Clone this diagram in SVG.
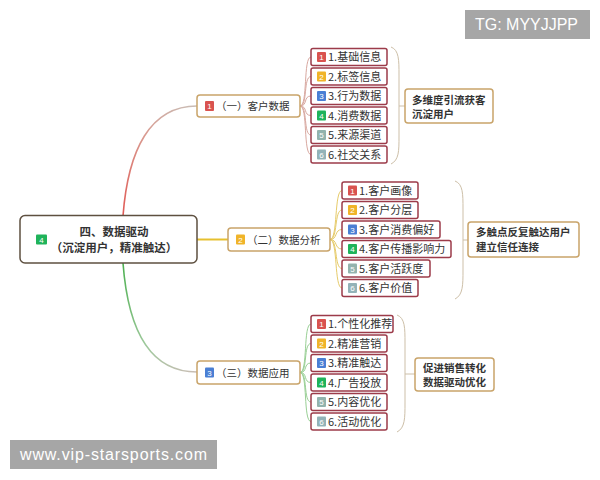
<svg xmlns="http://www.w3.org/2000/svg" width="600" height="480" viewBox="0 0 600 480">
<defs>
<linearGradient id="gRed" gradientUnits="userSpaceOnUse" x1="123" y1="216" x2="197" y2="106">
<stop offset="0" stop-color="#e05a55"/><stop offset="0.6" stop-color="#d99a90"/><stop offset="1" stop-color="#c9bdb5"/>
</linearGradient>
<linearGradient id="gGreen" gradientUnits="userSpaceOnUse" x1="123" y1="263" x2="197" y2="372">
<stop offset="0" stop-color="#4cb050"/><stop offset="0.6" stop-color="#9cc89a"/><stop offset="1" stop-color="#c9bdb5"/>
</linearGradient>
<style>
text{font-family:"Noto Sans CJK SC","Noto Sans",sans-serif;fill:#333}
.leaf{fill:#fff;stroke:#9c3b4a;stroke-width:1.5}
.br{fill:#fff;stroke:#c9a46a;stroke-width:1.5}
.sum{fill:#fff;stroke:#c9a46a;stroke-width:1.5}
.root{fill:#fff;stroke:#5e5040;stroke-width:1.5}
.lt{font-size:11px}
.bt{font-size:10.5px}
.st{font-size:10.5px;font-weight:bold}
.rt{font-size:11.5px;font-weight:bold}
.bn{font-size:8px;fill:#fff;text-anchor:middle;font-family:"Liberation Sans",sans-serif}
.c1{fill:#d9534f}.c2{fill:#f0b429}.c3{fill:#4a7fd4}.c4{fill:#1fb35a}.c5{fill:#93b3ad}.c6{fill:#93b3b8}
.f1{fill:none;stroke:#d8a8a0;stroke-width:1}
.f2{fill:none;stroke:#e6cb6a;stroke-width:1}
.f3{fill:none;stroke:#98cf94;stroke-width:1}
.brace{fill:none;stroke:#cdbfa8;stroke-width:1}
.wm{fill:#a6a6a6}
.wt{font-family:"Liberation Sans",Arial,sans-serif;font-size:16px;fill:#fff}
</style>
</defs>
<rect width="600" height="480" fill="#fff"/>

<g id="connectors">
<path d="M123 216 C128 150 150 106 197 106" fill="none" stroke="url(#gRed)" stroke-width="1.6"/>
<path d="M197 239.5 L228 239.5" fill="none" stroke="#e6c030" stroke-width="2"/>
<path d="M123 263 C128 330 150 372 197 372" fill="none" stroke="url(#gGreen)" stroke-width="1.6"/>
<g class="f1">
<path d="M300 106 C308 106 303 57 311 57"/>
<path d="M300 106 C308 106 303 76.5 311 76.5"/>
<path d="M300 106 C308 106 303 96 311 96"/>
<path d="M300 106 C308 106 303 115.5 311 115.5"/>
<path d="M300 106 C308 106 303 135 311 135"/>
<path d="M300 106 C308 106 303 154.5 311 154.5"/>
</g>
<g class="f2">
<path d="M330 239.5 C338 239.5 334 190.5 342 190.5"/>
<path d="M330 239.5 C338 239.5 334 210 342 210"/>
<path d="M330 239.5 C338 239.5 334 229.5 342 229.5"/>
<path d="M330 239.5 C338 239.5 334 249 342 249"/>
<path d="M330 239.5 C338 239.5 334 268.5 342 268.5"/>
<path d="M330 239.5 C338 239.5 334 288 342 288"/>
</g>
<g class="f3">
<path d="M300 372.5 C308 372.5 303 324 311 324"/>
<path d="M300 372.5 C308 372.5 303 343.5 311 343.5"/>
<path d="M300 372.5 C308 372.5 303 363 311 363"/>
<path d="M300 372.5 C308 372.5 303 382.5 311 382.5"/>
<path d="M300 372.5 C308 372.5 303 402 311 402"/>
<path d="M300 372.5 C308 372.5 303 421.5 311 421.5"/>
</g>
<g class="brace">
<path d="M391 47 C399 50 399 60 399 75 L399 136 C399 151 399 160 391 164 M399 106 L405 106"/>
<path d="M455 181 C463 184 463 194 463 209 L463 270 C463 285 463 295 455 299 M463 240 L468 240"/>
<path d="M397 315 C405 318 405 328 405 343 L405 403 C405 418 405 428 397 432 M405 374 L415 374"/>
</g>
</g>

<g id="root">
<rect class="root" x="20" y="215.5" width="177" height="47.5" rx="5"/>
<rect class="c4" x="36" y="234.5" width="11" height="10" rx="1"/>
<text class="bn" x="41.5" y="242.5">4</text>
<text class="rt" x="114" y="236" text-anchor="middle">四、数据驱动</text>
<text class="rt" x="114" y="252" text-anchor="middle">（沉淀用户，精准触达）</text>
</g>

<g id="b1">
<rect class="br" x="197" y="95" width="103" height="22" rx="3"/>
<rect class="c1" x="205" y="101" width="9" height="10" rx="1"/>
<text class="bn" x="209.5" y="109">1</text>
<text class="bt" x="216" y="110">（一）客户数据</text>
</g>
<g id="b2">
<rect class="br" x="228" y="228" width="102" height="23" rx="3"/>
<rect class="c2" x="236" y="234.5" width="9" height="10" rx="1"/>
<text class="bn" x="240.5" y="242.5">2</text>
<text class="bt" x="247" y="243.5">（二）数据分析</text>
</g>
<g id="b3">
<rect class="br" x="197" y="361" width="103" height="23" rx="3"/>
<rect class="c3" x="205" y="367.5" width="9" height="10" rx="1"/>
<text class="bn" x="209.5" y="375.5">3</text>
<text class="bt" x="216" y="376.5">（三）数据应用</text>
</g>

<g id="l1-1"><rect class="leaf" x="311" y="48.5" width="76" height="17" rx="2"/><rect class="c1" x="317" y="52" width="9" height="10" rx="1"/><text class="bn" x="321.5" y="60">1</text><text class="lt" x="328" y="61">1.基础信息</text></g>
<g id="l1-2"><rect class="leaf" x="311" y="68" width="76" height="17" rx="2"/><rect class="c2" x="317" y="71.5" width="9" height="10" rx="1"/><text class="bn" x="321.5" y="79.5">2</text><text class="lt" x="328" y="80.5">2.标签信息</text></g>
<g id="l1-3"><rect class="leaf" x="311" y="87.5" width="76" height="17" rx="2"/><rect class="c3" x="317" y="91" width="9" height="10" rx="1"/><text class="bn" x="321.5" y="99">3</text><text class="lt" x="328" y="100">3.行为数据</text></g>
<g id="l1-4"><rect class="leaf" x="311" y="107" width="76" height="17" rx="2"/><rect class="c4" x="317" y="110.5" width="9" height="10" rx="1"/><text class="bn" x="321.5" y="118.5">4</text><text class="lt" x="328" y="119.5">4.消费数据</text></g>
<g id="l1-5"><rect class="leaf" x="311" y="126.5" width="76" height="17" rx="2"/><rect class="c5" x="317" y="130" width="9" height="10" rx="1"/><text class="bn" x="321.5" y="138">5</text><text class="lt" x="328" y="139">5.来源渠道</text></g>
<g id="l1-6"><rect class="leaf" x="311" y="146" width="76" height="17" rx="2"/><rect class="c6" x="317" y="149.5" width="9" height="10" rx="1"/><text class="bn" x="321.5" y="157.5">6</text><text class="lt" x="328" y="158.5">6.社交关系</text></g>

<g id="l2-1"><rect class="leaf" x="342" y="182" width="76" height="17" rx="2"/><rect class="c1" x="348" y="185.5" width="9" height="10" rx="1"/><text class="bn" x="352.5" y="193.5">1</text><text class="lt" x="359" y="194.5">1.客户画像</text></g>
<g id="l2-2"><rect class="leaf" x="342" y="201.5" width="76" height="17" rx="2"/><rect class="c2" x="348" y="205" width="9" height="10" rx="1"/><text class="bn" x="352.5" y="213">2</text><text class="lt" x="359" y="214">2.客户分层</text></g>
<g id="l2-3"><rect class="leaf" x="342" y="221" width="98" height="17" rx="2"/><rect class="c3" x="348" y="224.5" width="9" height="10" rx="1"/><text class="bn" x="352.5" y="232.5">3</text><text class="lt" x="359" y="233.5">3.客户消费偏好</text></g>
<g id="l2-4"><rect class="leaf" x="342" y="240.5" width="109" height="17" rx="2"/><rect class="c4" x="348" y="244" width="9" height="10" rx="1"/><text class="bn" x="352.5" y="252">4</text><text class="lt" x="359" y="253">4.客户传播影响力</text></g>
<g id="l2-5"><rect class="leaf" x="342" y="260" width="88" height="17" rx="2"/><rect class="c5" x="348" y="263.5" width="9" height="10" rx="1"/><text class="bn" x="352.5" y="271.5">5</text><text class="lt" x="359" y="272.5">5.客户活跃度</text></g>
<g id="l2-6"><rect class="leaf" x="342" y="279.5" width="76" height="17" rx="2"/><rect class="c6" x="348" y="283" width="9" height="10" rx="1"/><text class="bn" x="352.5" y="291">6</text><text class="lt" x="359" y="292">6.客户价值</text></g>

<g id="l3-1"><rect class="leaf" x="311" y="315.5" width="82" height="17" rx="2"/><rect class="c1" x="317" y="319" width="9" height="10" rx="1"/><text class="bn" x="321.5" y="327">1</text><text class="lt" x="328" y="328">1.个性化推荐</text></g>
<g id="l3-2"><rect class="leaf" x="311" y="335" width="76" height="17" rx="2"/><rect class="c2" x="317" y="338.5" width="9" height="10" rx="1"/><text class="bn" x="321.5" y="346.5">2</text><text class="lt" x="328" y="347.5">2.精准营销</text></g>
<g id="l3-3"><rect class="leaf" x="311" y="354.5" width="76" height="17" rx="2"/><rect class="c3" x="317" y="358" width="9" height="10" rx="1"/><text class="bn" x="321.5" y="366">3</text><text class="lt" x="328" y="367">3.精准触达</text></g>
<g id="l3-4"><rect class="leaf" x="311" y="374" width="76" height="17" rx="2"/><rect class="c4" x="317" y="377.5" width="9" height="10" rx="1"/><text class="bn" x="321.5" y="385.5">4</text><text class="lt" x="328" y="386.5">4.广告投放</text></g>
<g id="l3-5"><rect class="leaf" x="311" y="393.5" width="76" height="17" rx="2"/><rect class="c5" x="317" y="397" width="9" height="10" rx="1"/><text class="bn" x="321.5" y="405">5</text><text class="lt" x="328" y="406">5.内容优化</text></g>
<g id="l3-6"><rect class="leaf" x="311" y="413" width="76" height="17" rx="2"/><rect class="c6" x="317" y="416.5" width="9" height="10" rx="1"/><text class="bn" x="321.5" y="424.5">6</text><text class="lt" x="328" y="425.5">6.活动优化</text></g>

<g id="s1">
<rect class="sum" x="405" y="89" width="88" height="34" rx="3"/>
<text class="st" x="412" y="104">多维度引流获客</text>
<text class="st" x="412" y="118">沉淀用户</text>
</g>
<g id="s2">
<rect class="sum" x="468" y="222" width="111" height="35" rx="3"/>
<text class="st" x="476" y="236">多触点反复触达用户</text>
<text class="st" x="476" y="251">建立信任连接</text>
</g>
<g id="s3">
<rect class="sum" x="415" y="358" width="79" height="33" rx="3"/>
<text class="st" x="454.5" y="372" text-anchor="middle">促进销售转化</text>
<text class="st" x="454.5" y="386" text-anchor="middle">数据驱动优化</text>
</g>

<g id="wm-tg">
<rect class="wm" x="465" y="10" width="125" height="29"/>
<text class="wt" x="475" y="30" textLength="103" lengthAdjust="spacingAndGlyphs">TG: MYYJJPP</text>
</g>
<g id="wm-url">
<rect class="wm" x="10" y="440" width="207" height="29"/>
<text class="wt" x="20" y="460" textLength="187" lengthAdjust="spacing">www.vip-starsports.com</text>
</g>
</svg>
